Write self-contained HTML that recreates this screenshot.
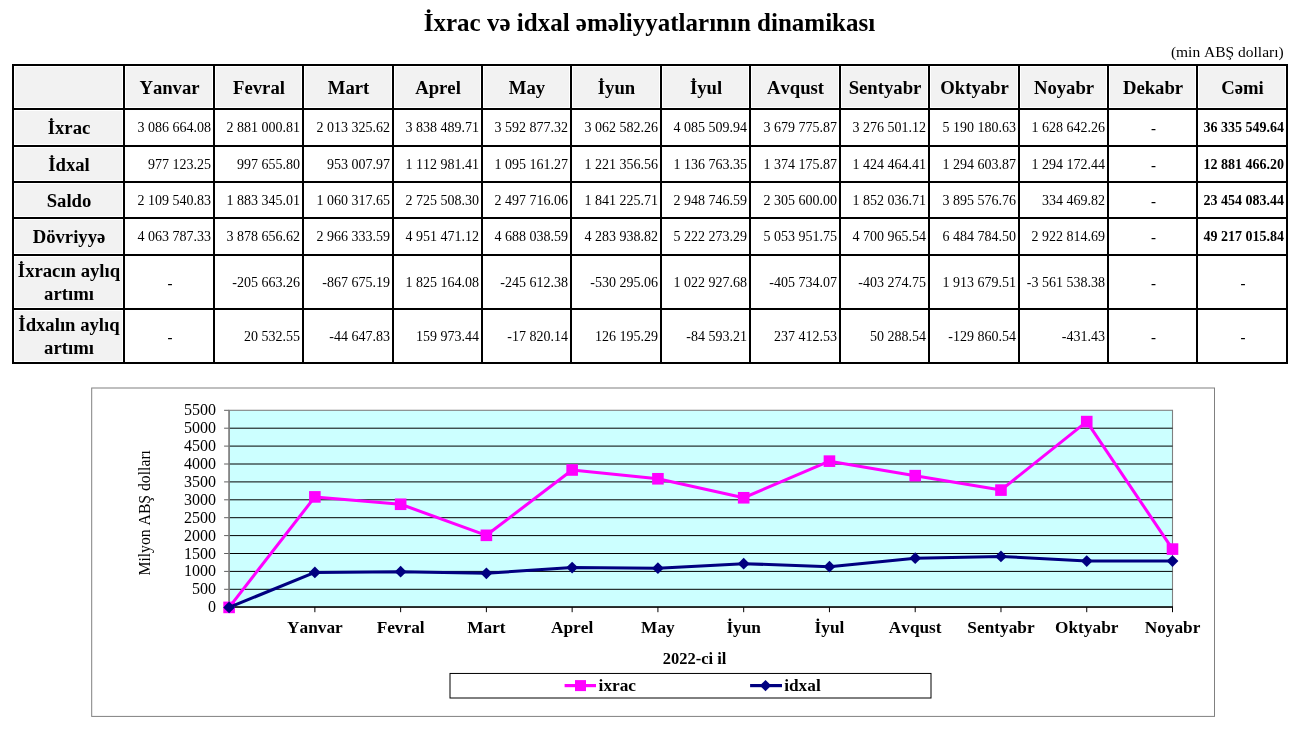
<!DOCTYPE html>
<html lang="az"><head><meta charset="utf-8"><title>İxrac və idxal əməliyyatlarının dinamikası</title>
<style>
html,body{margin:0;padding:0;background:#fff;}
body{width:1302px;height:744px;position:relative;overflow:hidden;font-family:"Liberation Serif","Times New Roman",serif;color:#000;font-kerning:none;}
.abs{position:absolute;}
#title{left:0;width:1299px;top:9.3px;text-align:center;font-weight:bold;font-size:25px;line-height:28px;white-space:nowrap;}
#unit{right:18.3px;top:44px;font-size:15.5px;line-height:16px;white-space:nowrap;}
.c{position:absolute;box-sizing:border-box;display:flex;align-items:center;white-space:nowrap;}
.h{background:#f2f2f2;border:1px solid #fff;padding-left:1px;padding-top:0.6px;font-weight:bold;font-size:18.7px;justify-content:center;text-align:center;line-height:23px;}
.n{font-size:14px;justify-content:flex-end;padding-right:2px;padding-top:1.8px;}
.d{font-size:15px;justify-content:center;font-weight:bold;padding-top:2px;padding-left:2px;}
.t{font-size:14px;justify-content:flex-end;padding-right:2px;font-weight:bold;padding-top:1.8px;}
.ln{position:absolute;background:#000;}
</style></head><body>
<div id="title" class="abs">İxrac və idxal əməliyyatlarının dinamikası</div>
<div id="unit" class="abs">(min ABŞ dolları)</div>

<div class="c h" style="left:14px;top:66px;width:109px;height:42px"></div>
<div class="c h" style="left:125px;top:66px;width:88px;height:42px">Yanvar</div>
<div class="c h" style="left:215px;top:66px;width:87px;height:42px">Fevral</div>
<div class="c h" style="left:304px;top:66px;width:88px;height:42px">Mart</div>
<div class="c h" style="left:394px;top:66px;width:87px;height:42px">Aprel</div>
<div class="c h" style="left:483px;top:66px;width:87px;height:42px">May</div>
<div class="c h" style="left:572px;top:66px;width:88px;height:42px">İyun</div>
<div class="c h" style="left:662px;top:66px;width:87px;height:42px">İyul</div>
<div class="c h" style="left:751px;top:66px;width:88px;height:42px">Avqust</div>
<div class="c h" style="left:841px;top:66px;width:87px;height:42px">Sentyabr</div>
<div class="c h" style="left:930px;top:66px;width:88px;height:42px">Oktyabr</div>
<div class="c h" style="left:1020px;top:66px;width:87px;height:42px">Noyabr</div>
<div class="c h" style="left:1109px;top:66px;width:87px;height:42px">Dekabr</div>
<div class="c h" style="left:1198px;top:66px;width:88px;height:42px">Cəmi</div>
<div class="c h" style="left:14px;top:110px;width:109px;height:35px">İxrac</div>
<div class="c n" style="left:125px;top:110px;width:88px;height:35px">3 086 664.08</div>
<div class="c n" style="left:215px;top:110px;width:87px;height:35px">2 881 000.81</div>
<div class="c n" style="left:304px;top:110px;width:88px;height:35px">2 013 325.62</div>
<div class="c n" style="left:394px;top:110px;width:87px;height:35px">3 838 489.71</div>
<div class="c n" style="left:483px;top:110px;width:87px;height:35px">3 592 877.32</div>
<div class="c n" style="left:572px;top:110px;width:88px;height:35px">3 062 582.26</div>
<div class="c n" style="left:662px;top:110px;width:87px;height:35px">4 085 509.94</div>
<div class="c n" style="left:751px;top:110px;width:88px;height:35px">3 679 775.87</div>
<div class="c n" style="left:841px;top:110px;width:87px;height:35px">3 276 501.12</div>
<div class="c n" style="left:930px;top:110px;width:88px;height:35px">5 190 180.63</div>
<div class="c n" style="left:1020px;top:110px;width:87px;height:35px">1 628 642.26</div>
<div class="c d" style="left:1109px;top:110px;width:87px;height:35px">-</div>
<div class="c t" style="left:1198px;top:110px;width:88px;height:35px">36 335 549.64</div>
<div class="c h" style="left:14px;top:147px;width:109px;height:34px">İdxal</div>
<div class="c n" style="left:125px;top:147px;width:88px;height:34px">977 123.25</div>
<div class="c n" style="left:215px;top:147px;width:87px;height:34px">997 655.80</div>
<div class="c n" style="left:304px;top:147px;width:88px;height:34px">953 007.97</div>
<div class="c n" style="left:394px;top:147px;width:87px;height:34px">1 112 981.41</div>
<div class="c n" style="left:483px;top:147px;width:87px;height:34px">1 095 161.27</div>
<div class="c n" style="left:572px;top:147px;width:88px;height:34px">1 221 356.56</div>
<div class="c n" style="left:662px;top:147px;width:87px;height:34px">1 136 763.35</div>
<div class="c n" style="left:751px;top:147px;width:88px;height:34px">1 374 175.87</div>
<div class="c n" style="left:841px;top:147px;width:87px;height:34px">1 424 464.41</div>
<div class="c n" style="left:930px;top:147px;width:88px;height:34px">1 294 603.87</div>
<div class="c n" style="left:1020px;top:147px;width:87px;height:34px">1 294 172.44</div>
<div class="c d" style="left:1109px;top:147px;width:87px;height:34px">-</div>
<div class="c t" style="left:1198px;top:147px;width:88px;height:34px">12 881 466.20</div>
<div class="c h" style="left:14px;top:183px;width:109px;height:34px">Saldo</div>
<div class="c n" style="left:125px;top:183px;width:88px;height:34px">2 109 540.83</div>
<div class="c n" style="left:215px;top:183px;width:87px;height:34px">1 883 345.01</div>
<div class="c n" style="left:304px;top:183px;width:88px;height:34px">1 060 317.65</div>
<div class="c n" style="left:394px;top:183px;width:87px;height:34px">2 725 508.30</div>
<div class="c n" style="left:483px;top:183px;width:87px;height:34px">2 497 716.06</div>
<div class="c n" style="left:572px;top:183px;width:88px;height:34px">1 841 225.71</div>
<div class="c n" style="left:662px;top:183px;width:87px;height:34px">2 948 746.59</div>
<div class="c n" style="left:751px;top:183px;width:88px;height:34px">2 305 600.00</div>
<div class="c n" style="left:841px;top:183px;width:87px;height:34px">1 852 036.71</div>
<div class="c n" style="left:930px;top:183px;width:88px;height:34px">3 895 576.76</div>
<div class="c n" style="left:1020px;top:183px;width:87px;height:34px">334 469.82</div>
<div class="c d" style="left:1109px;top:183px;width:87px;height:34px">-</div>
<div class="c t" style="left:1198px;top:183px;width:88px;height:34px">23 454 083.44</div>
<div class="c h" style="left:14px;top:219px;width:109px;height:35px">Dövriyyə</div>
<div class="c n" style="left:125px;top:219px;width:88px;height:35px">4 063 787.33</div>
<div class="c n" style="left:215px;top:219px;width:87px;height:35px">3 878 656.62</div>
<div class="c n" style="left:304px;top:219px;width:88px;height:35px">2 966 333.59</div>
<div class="c n" style="left:394px;top:219px;width:87px;height:35px">4 951 471.12</div>
<div class="c n" style="left:483px;top:219px;width:87px;height:35px">4 688 038.59</div>
<div class="c n" style="left:572px;top:219px;width:88px;height:35px">4 283 938.82</div>
<div class="c n" style="left:662px;top:219px;width:87px;height:35px">5 222 273.29</div>
<div class="c n" style="left:751px;top:219px;width:88px;height:35px">5 053 951.75</div>
<div class="c n" style="left:841px;top:219px;width:87px;height:35px">4 700 965.54</div>
<div class="c n" style="left:930px;top:219px;width:88px;height:35px">6 484 784.50</div>
<div class="c n" style="left:1020px;top:219px;width:87px;height:35px">2 922 814.69</div>
<div class="c d" style="left:1109px;top:219px;width:87px;height:35px">-</div>
<div class="c t" style="left:1198px;top:219px;width:88px;height:35px">49 217 015.84</div>
<div class="c h" style="left:14px;top:256px;width:109px;height:52px">İxracın aylıq<br>artımı</div>
<div class="c d" style="left:125px;top:256px;width:88px;height:52px">-</div>
<div class="c n" style="left:215px;top:256px;width:87px;height:52px">-205 663.26</div>
<div class="c n" style="left:304px;top:256px;width:88px;height:52px">-867 675.19</div>
<div class="c n" style="left:394px;top:256px;width:87px;height:52px">1 825 164.08</div>
<div class="c n" style="left:483px;top:256px;width:87px;height:52px">-245 612.38</div>
<div class="c n" style="left:572px;top:256px;width:88px;height:52px">-530 295.06</div>
<div class="c n" style="left:662px;top:256px;width:87px;height:52px">1 022 927.68</div>
<div class="c n" style="left:751px;top:256px;width:88px;height:52px">-405 734.07</div>
<div class="c n" style="left:841px;top:256px;width:87px;height:52px">-403 274.75</div>
<div class="c n" style="left:930px;top:256px;width:88px;height:52px">1 913 679.51</div>
<div class="c n" style="left:1020px;top:256px;width:87px;height:52px">-3 561 538.38</div>
<div class="c d" style="left:1109px;top:256px;width:87px;height:52px">-</div>
<div class="c d" style="left:1198px;top:256px;width:88px;height:52px">-</div>
<div class="c h" style="left:14px;top:310px;width:109px;height:52px">İdxalın aylıq<br>artımı</div>
<div class="c d" style="left:125px;top:310px;width:88px;height:52px">-</div>
<div class="c n" style="left:215px;top:310px;width:87px;height:52px">20 532.55</div>
<div class="c n" style="left:304px;top:310px;width:88px;height:52px">-44 647.83</div>
<div class="c n" style="left:394px;top:310px;width:87px;height:52px">159 973.44</div>
<div class="c n" style="left:483px;top:310px;width:87px;height:52px">-17 820.14</div>
<div class="c n" style="left:572px;top:310px;width:88px;height:52px">126 195.29</div>
<div class="c n" style="left:662px;top:310px;width:87px;height:52px">-84 593.21</div>
<div class="c n" style="left:751px;top:310px;width:88px;height:52px">237 412.53</div>
<div class="c n" style="left:841px;top:310px;width:87px;height:52px">50 288.54</div>
<div class="c n" style="left:930px;top:310px;width:88px;height:52px">-129 860.54</div>
<div class="c n" style="left:1020px;top:310px;width:87px;height:52px">-431.43</div>
<div class="c d" style="left:1109px;top:310px;width:87px;height:52px">-</div>
<div class="c d" style="left:1198px;top:310px;width:88px;height:52px">-</div>
<div class="ln" style="left:12px;top:64px;width:2px;height:300px"></div>
<div class="ln" style="left:123px;top:64px;width:2px;height:300px"></div>
<div class="ln" style="left:213px;top:64px;width:2px;height:300px"></div>
<div class="ln" style="left:302px;top:64px;width:2px;height:300px"></div>
<div class="ln" style="left:392px;top:64px;width:2px;height:300px"></div>
<div class="ln" style="left:481px;top:64px;width:2px;height:300px"></div>
<div class="ln" style="left:570px;top:64px;width:2px;height:300px"></div>
<div class="ln" style="left:660px;top:64px;width:2px;height:300px"></div>
<div class="ln" style="left:749px;top:64px;width:2px;height:300px"></div>
<div class="ln" style="left:839px;top:64px;width:2px;height:300px"></div>
<div class="ln" style="left:928px;top:64px;width:2px;height:300px"></div>
<div class="ln" style="left:1018px;top:64px;width:2px;height:300px"></div>
<div class="ln" style="left:1107px;top:64px;width:2px;height:300px"></div>
<div class="ln" style="left:1196px;top:64px;width:2px;height:300px"></div>
<div class="ln" style="left:1286px;top:64px;width:2px;height:300px"></div>
<div class="ln" style="left:12px;top:64px;width:1276px;height:2px"></div>
<div class="ln" style="left:12px;top:108px;width:1276px;height:2px"></div>
<div class="ln" style="left:12px;top:145px;width:1276px;height:2px"></div>
<div class="ln" style="left:12px;top:181px;width:1276px;height:2px"></div>
<div class="ln" style="left:12px;top:217px;width:1276px;height:2px"></div>
<div class="ln" style="left:12px;top:254px;width:1276px;height:2px"></div>
<div class="ln" style="left:12px;top:308px;width:1276px;height:2px"></div>
<div class="ln" style="left:12px;top:362px;width:1276px;height:2px"></div>
<svg class="abs" width="1302" height="744" viewBox="0 0 1302 744" style="left:0;top:0;font-kerning:none" font-family="Liberation Serif, Times New Roman, serif">
<rect x="91.7" y="388" width="1122.8" height="328.4" fill="#fff" stroke="#808080" stroke-width="1"/>
<rect x="229.1" y="410.3" width="943.4" height="196.90000000000003" fill="#ccffff" stroke="#808080" stroke-width="1.1"/>
<line x1="224.1" y1="607.20" x2="229.1" y2="607.20" stroke="#606060" stroke-width="1"/>
<text x="216" y="612.20" font-size="16" text-anchor="end">0</text>
<line x1="229.1" y1="589.30" x2="1172.5" y2="589.30" stroke="#000" stroke-width="1"/>
<line x1="224.1" y1="589.30" x2="229.1" y2="589.30" stroke="#606060" stroke-width="1"/>
<text x="216" y="594.30" font-size="16" text-anchor="end">500</text>
<line x1="229.1" y1="571.40" x2="1172.5" y2="571.40" stroke="#000" stroke-width="1"/>
<line x1="224.1" y1="571.40" x2="229.1" y2="571.40" stroke="#606060" stroke-width="1"/>
<text x="216" y="576.40" font-size="16" text-anchor="end">1000</text>
<line x1="229.1" y1="553.50" x2="1172.5" y2="553.50" stroke="#000" stroke-width="1"/>
<line x1="224.1" y1="553.50" x2="229.1" y2="553.50" stroke="#606060" stroke-width="1"/>
<text x="216" y="558.50" font-size="16" text-anchor="end">1500</text>
<line x1="229.1" y1="535.60" x2="1172.5" y2="535.60" stroke="#000" stroke-width="1"/>
<line x1="224.1" y1="535.60" x2="229.1" y2="535.60" stroke="#606060" stroke-width="1"/>
<text x="216" y="540.60" font-size="16" text-anchor="end">2000</text>
<line x1="229.1" y1="517.70" x2="1172.5" y2="517.70" stroke="#000" stroke-width="1"/>
<line x1="224.1" y1="517.70" x2="229.1" y2="517.70" stroke="#606060" stroke-width="1"/>
<text x="216" y="522.70" font-size="16" text-anchor="end">2500</text>
<line x1="229.1" y1="499.80" x2="1172.5" y2="499.80" stroke="#000" stroke-width="1"/>
<line x1="224.1" y1="499.80" x2="229.1" y2="499.80" stroke="#606060" stroke-width="1"/>
<text x="216" y="504.80" font-size="16" text-anchor="end">3000</text>
<line x1="229.1" y1="481.90" x2="1172.5" y2="481.90" stroke="#000" stroke-width="1"/>
<line x1="224.1" y1="481.90" x2="229.1" y2="481.90" stroke="#606060" stroke-width="1"/>
<text x="216" y="486.90" font-size="16" text-anchor="end">3500</text>
<line x1="229.1" y1="464.00" x2="1172.5" y2="464.00" stroke="#000" stroke-width="1"/>
<line x1="224.1" y1="464.00" x2="229.1" y2="464.00" stroke="#606060" stroke-width="1"/>
<text x="216" y="469.00" font-size="16" text-anchor="end">4000</text>
<line x1="229.1" y1="446.10" x2="1172.5" y2="446.10" stroke="#000" stroke-width="1"/>
<line x1="224.1" y1="446.10" x2="229.1" y2="446.10" stroke="#606060" stroke-width="1"/>
<text x="216" y="451.10" font-size="16" text-anchor="end">4500</text>
<line x1="229.1" y1="428.20" x2="1172.5" y2="428.20" stroke="#000" stroke-width="1"/>
<line x1="224.1" y1="428.20" x2="229.1" y2="428.20" stroke="#606060" stroke-width="1"/>
<text x="216" y="433.20" font-size="16" text-anchor="end">5000</text>
<line x1="224.1" y1="410.30" x2="229.1" y2="410.30" stroke="#606060" stroke-width="1"/>
<text x="216" y="415.30" font-size="16" text-anchor="end">5500</text>
<line x1="229.1" y1="410.3" x2="229.1" y2="607.2" stroke="#808080" stroke-width="1.5"/>
<line x1="228.4" y1="607.0" x2="1173.0" y2="607.0" stroke="#000" stroke-width="1.7"/>
<line x1="314.86" y1="607.2" x2="314.86" y2="612.2" stroke="#000" stroke-width="1"/>
<text x="314.86" y="633" font-size="17.3" font-weight="bold" text-anchor="middle">Yanvar</text>
<line x1="400.63" y1="607.2" x2="400.63" y2="612.2" stroke="#000" stroke-width="1"/>
<text x="400.63" y="633" font-size="17.3" font-weight="bold" text-anchor="middle">Fevral</text>
<line x1="486.39" y1="607.2" x2="486.39" y2="612.2" stroke="#000" stroke-width="1"/>
<text x="486.39" y="633" font-size="17.3" font-weight="bold" text-anchor="middle">Mart</text>
<line x1="572.15" y1="607.2" x2="572.15" y2="612.2" stroke="#000" stroke-width="1"/>
<text x="572.15" y="633" font-size="17.3" font-weight="bold" text-anchor="middle">Aprel</text>
<line x1="657.92" y1="607.2" x2="657.92" y2="612.2" stroke="#000" stroke-width="1"/>
<text x="657.92" y="633" font-size="17.3" font-weight="bold" text-anchor="middle">May</text>
<line x1="743.68" y1="607.2" x2="743.68" y2="612.2" stroke="#000" stroke-width="1"/>
<text x="743.68" y="633" font-size="17.3" font-weight="bold" text-anchor="middle">İyun</text>
<line x1="829.45" y1="607.2" x2="829.45" y2="612.2" stroke="#000" stroke-width="1"/>
<text x="829.45" y="633" font-size="17.3" font-weight="bold" text-anchor="middle">İyul</text>
<line x1="915.21" y1="607.2" x2="915.21" y2="612.2" stroke="#000" stroke-width="1"/>
<text x="915.21" y="633" font-size="17.3" font-weight="bold" text-anchor="middle">Avqust</text>
<line x1="1000.97" y1="607.2" x2="1000.97" y2="612.2" stroke="#000" stroke-width="1"/>
<text x="1000.97" y="633" font-size="17.3" font-weight="bold" text-anchor="middle">Sentyabr</text>
<line x1="1086.74" y1="607.2" x2="1086.74" y2="612.2" stroke="#000" stroke-width="1"/>
<text x="1086.74" y="633" font-size="17.3" font-weight="bold" text-anchor="middle">Oktyabr</text>
<line x1="1172.50" y1="607.2" x2="1172.50" y2="612.2" stroke="#000" stroke-width="1"/>
<text x="1172.50" y="633" font-size="17.3" font-weight="bold" text-anchor="middle">Noyabr</text>
<text x="694.6" y="664" font-size="16.5" font-weight="bold" text-anchor="middle">2022-ci il</text>
<text transform="translate(150,512.8) rotate(-90)" font-size="15.7" text-anchor="middle">Milyon ABŞ dolları</text>
<polyline points="229.10,607.40 314.86,496.90 400.63,504.26 486.39,535.32 572.15,469.98 657.92,478.77 743.68,497.76 829.45,461.14 915.21,475.66 1000.97,490.10 1086.74,421.59 1172.50,549.09" fill="none" stroke="#ff00ff" stroke-width="3.05" stroke-linejoin="round"/>
<rect x="223.30" y="601.60" width="11.6" height="11.6" fill="#ff00ff"/>
<rect x="309.06" y="491.10" width="11.6" height="11.6" fill="#ff00ff"/>
<rect x="394.83" y="498.46" width="11.6" height="11.6" fill="#ff00ff"/>
<rect x="480.59" y="529.52" width="11.6" height="11.6" fill="#ff00ff"/>
<rect x="566.35" y="464.18" width="11.6" height="11.6" fill="#ff00ff"/>
<rect x="652.12" y="472.97" width="11.6" height="11.6" fill="#ff00ff"/>
<rect x="737.88" y="491.96" width="11.6" height="11.6" fill="#ff00ff"/>
<rect x="823.65" y="455.34" width="11.6" height="11.6" fill="#ff00ff"/>
<rect x="909.41" y="469.86" width="11.6" height="11.6" fill="#ff00ff"/>
<rect x="995.17" y="484.30" width="11.6" height="11.6" fill="#ff00ff"/>
<rect x="1080.94" y="415.79" width="11.6" height="11.6" fill="#ff00ff"/>
<rect x="1166.70" y="543.29" width="11.6" height="11.6" fill="#ff00ff"/>
<polyline points="229.10,607.40 314.86,572.42 400.63,571.68 486.39,573.28 572.15,567.56 657.92,568.19 743.68,563.68 829.45,566.70 915.21,558.20 1000.97,556.40 1086.74,561.05 1172.50,561.07" fill="none" stroke="#000080" stroke-width="3.05" stroke-linejoin="round"/>
<polygon points="223.20,607.40 229.10,601.50 235.00,607.40 229.10,613.30" fill="#000080"/>
<polygon points="308.96,572.42 314.86,566.52 320.76,572.42 314.86,578.32" fill="#000080"/>
<polygon points="394.73,571.68 400.63,565.78 406.53,571.68 400.63,577.58" fill="#000080"/>
<polygon points="480.49,573.28 486.39,567.38 492.29,573.28 486.39,579.18" fill="#000080"/>
<polygon points="566.25,567.56 572.15,561.66 578.05,567.56 572.15,573.46" fill="#000080"/>
<polygon points="652.02,568.19 657.92,562.29 663.82,568.19 657.92,574.09" fill="#000080"/>
<polygon points="737.78,563.68 743.68,557.78 749.58,563.68 743.68,569.58" fill="#000080"/>
<polygon points="823.55,566.70 829.45,560.80 835.35,566.70 829.45,572.60" fill="#000080"/>
<polygon points="909.31,558.20 915.21,552.30 921.11,558.20 915.21,564.10" fill="#000080"/>
<polygon points="995.07,556.40 1000.97,550.50 1006.87,556.40 1000.97,562.30" fill="#000080"/>
<polygon points="1080.84,561.05 1086.74,555.15 1092.64,561.05 1086.74,566.95" fill="#000080"/>
<polygon points="1166.60,561.07 1172.50,555.17 1178.40,561.07 1172.50,566.97" fill="#000080"/>
<rect x="450" y="673.45" width="481" height="24.55" fill="#fff" stroke="#000" stroke-width="1"/>
<line x1="564.6" y1="685.6" x2="596" y2="685.6" stroke="#ff00ff" stroke-width="3.2"/>
<rect x="575" y="680.1" width="11" height="11" fill="#ff00ff"/>
<text x="598.6" y="691.3" font-size="17.3" font-weight="bold">ixrac</text>
<line x1="750.1" y1="685.6" x2="782" y2="685.6" stroke="#000080" stroke-width="3.2"/>
<polygon points="759.8,685.6 765.5,679.9 771.2,685.6 765.5,691.3" fill="#000080"/>
<text x="784.2" y="691.3" font-size="17.3" font-weight="bold">idxal</text>
</svg>
</body></html>
